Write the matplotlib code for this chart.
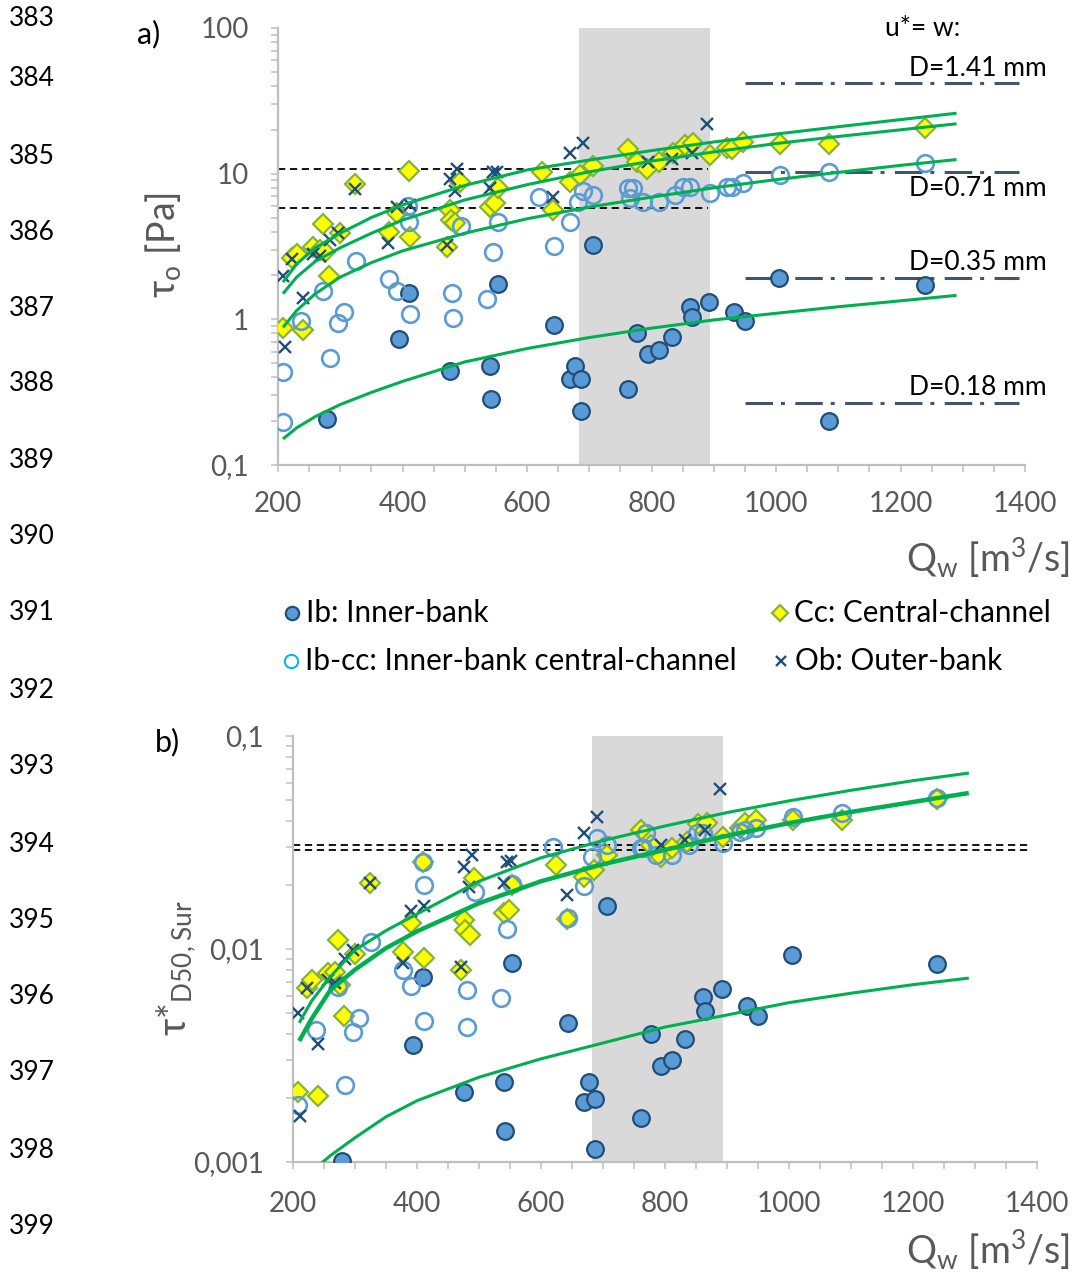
import matplotlib
matplotlib.use('Agg')
import matplotlib.pyplot as plt
from matplotlib.lines import Line2D
from matplotlib.ticker import MultipleLocator, FixedLocator, FixedFormatter, LogLocator, NullFormatter
import numpy as np

plt.rcParams['font.family'] = ['Lato', 'DejaVu Sans']
plt.rcParams['mathtext.default'] = 'regular'

# ---------------- data ----------------
# Ib: inner-bank (filled circles)
q_ib = [279, 394, 410, 476, 541, 542, 553, 643, 669, 677, 687, 687, 706, 762, 777, 794,
        812, 833, 862, 865, 892, 933, 950, 1005, 1085, 1239]
tau_ib = [0.207, 0.73, 1.51, 0.44, 0.476, 0.283, 1.74, 0.91, 0.39, 0.48, 0.39, 0.234, 3.26,
          0.33, 0.81, 0.575, 0.62, 0.76, 1.21, 1.03, 1.31, 1.12, 0.98, 1.91, 0.20, 1.71]
taus_ib = [0.00101, 0.00354, 0.0074, 0.00213, 0.00238, 0.0014, 0.0086, 0.0045, 0.00191,
           0.00238, 0.00198, 0.00115, 0.0159, 0.00161, 0.00399, 0.00282, 0.00301, 0.00377,
           0.00596, 0.00512, 0.00649, 0.0054, 0.00484, 0.0094, np.nan, 0.0085]

# Cc: central-channel (diamonds)
q_cc = [208, 222, 230, 240, 256, 268, 272, 275, 282, 300, 324, 378, 391, 410, 412, 471, 476,
        478, 485, 492, 541, 548, 553, 624, 642, 669, 685, 706, 762, 777, 793, 812, 835, 854,
        867, 894, 921, 929, 947, 1006, 1085, 1239]
tau_cc = [0.87, 2.65, 2.83, 0.84, 3.16, 3.0, 4.5, 2.88, 1.97, 3.94, 8.5, 3.95, 5.4, 10.5, 3.7,
          3.16, 5.67, 4.84, 4.6, 8.7, 5.9, 6.3, 8.0, 10.2, 5.6, 8.7, 9.8, 11.2, 14.8, 12.1,
          10.8, 12.1, 13.9, 15.8, 16.3, 13.5, 15.1, 14.8, 16.6, 16.0, 16.0, 20.6]
taus_cc = [0.00213, 0.00656, 0.00715, 0.00204, 0.0077, 0.0078, 0.0110, 0.0068, 0.00484, 0.0095,
           0.0204, 0.0097, 0.0132, 0.0256, 0.0091, 0.0080, 0.0137, 0.0123, 0.0116, 0.0215,
           0.0148, 0.0152, 0.020, 0.0248, 0.0138, 0.0218, 0.0235, 0.0276, 0.0362, 0.0308,
           0.0270, 0.0298, 0.0318, 0.0387, 0.0391, 0.0336, 0.037, 0.039, 0.0404, 0.0404,
           0.0404, 0.0506]

# Ib-cc: inner-bank central-channel (open circles)
q_ibcc = [208, 208, 237, 272, 284, 296, 306, 325, 378, 391, 409, 411, 412, 480, 481, 494, 536,
          545, 553, 619, 643, 669, 682, 690, 706, 762, 765, 770, 786, 812, 838, 851, 862, 894,
          921, 929, 947, 1006, 1085, 1239]
tau_ibcc = [0.434, 0.197, 0.98, 1.56, 0.54, 0.95, 1.12, 2.5, 1.88, 1.56, 6.0, 4.69, 1.08, 1.51,
            1.02, 4.34, 1.39, 2.92, 4.69, 6.96, 3.21, 4.69, 6.43, 7.65, 7.18, 8.0, 6.85, 8.0,
            6.43, 6.43, 7.18, 8.15, 8.15, 7.41, 8.15, 8.15, 8.67, 9.84, 10.2, 11.9]
taus_ibcc = [0.00185, np.nan, 0.00417, 0.0066, 0.0023, 0.00407, 0.00474, 0.0108, 0.0080, 0.0067,
             0.0256, 0.020, 0.00459, 0.00643, 0.0043, 0.0185, 0.00589, 0.0124, 0.0202, 0.0301,
             0.0140, 0.0198, 0.027, 0.0332, 0.0308, 0.0298, 0.0298, 0.0351, 0.0276, 0.0276,
             0.0308, 0.0351, 0.0351, 0.0315, 0.0354, 0.0362, 0.037, 0.0417, 0.0435, 0.0512]

# Ob: outer-bank (crosses)
q_ob = [208, 211, 222, 240, 256, 267, 284, 296, 324, 377, 391, 412, 471, 476, 484, 488, 541,
        545, 552, 642, 669, 690, 794, 833, 865, 889]
tau_ob = [1.97, 0.65, 2.58, 1.41, 2.79, 2.7, 3.53, 3.94, 7.9, 3.32, 5.94, 6.13, 3.26, 9.24,
          7.65, 10.8, 8.0, 10.2, 10.2, 6.96, 13.9, 16.3, 12.1, 12.7, 13.9, 22.0]
taus_ob = [0.00501, 0.00164, 0.00656, 0.00358, 0.00715, 0.0069, 0.0090, 0.0099, 0.0204, 0.0086,
           0.0151, 0.0159, 0.0082, 0.0243, 0.0195, 0.0276, 0.0204, 0.0256, 0.0258, 0.0179,
           0.0351, 0.0417, 0.0308, 0.0325, 0.0362, 0.0564]

# trend lines (read at fixed discharges)
q_fit_a = [208, 230, 260, 300, 350, 400, 500, 600, 700, 800, 900, 1000, 1100, 1200, 1290]
fit_a = [
    [1.8, 2.4, 3.1, 3.9, 5.0, 6.1, 8.3, 10.6, 12.4, 14.4, 16.5, 18.7, 21.0, 23.5, 26.0],
    [1.5, 1.95, 2.5, 3.1, 3.9, 4.8, 6.6, 8.4, 10.3, 12.2, 14.1, 16.1, 18.0, 20.0, 22.0],
    [0.88, 1.15, 1.5, 1.95, 2.45, 2.95, 3.9, 4.9, 5.9, 6.9, 8.0, 9.1, 10.2, 11.4, 12.5],
    [0.151, 0.18, 0.215, 0.26, 0.315, 0.375, 0.51, 0.63, 0.75, 0.87, 0.99, 1.1, 1.22, 1.34, 1.46],
]
q_fit_b = [210, 230, 260, 300, 350, 400, 500, 600, 700, 800, 900, 1000, 1100, 1200, 1290]
fit_b = [
    [0.0045, 0.0057, 0.0074, 0.0099, 0.0122, 0.0146, 0.0208, 0.0268, 0.0323, 0.0378, 0.0437,
     0.0496, 0.0556, 0.0617, 0.067],
    [0.0037, 0.0047, 0.0064, 0.0080, 0.0101, 0.0121, 0.0164, 0.0208, 0.0250, 0.0292, 0.0340,
     0.0390, 0.0440, 0.0490, 0.054],
    [0.00078, 0.0009, 0.00107, 0.0013, 0.00163, 0.00194, 0.0025, 0.00305, 0.00362, 0.0043,
     0.0049, 0.0056, 0.0062, 0.0068, 0.0073],
]
fit_b_lw = [2.2, 3.2, 2.2]

# shaded discharge range
q_band = [683, 894]

# thresholds
q_crit_a = [200, 890]
tau_crit_a = [10.8, 5.85]
q_crit_b = [200, 1390]
taus_crit_b = [0.0308, 0.0292]

q_settle = [950, 1390]
tau_settle = [42, 10.3, 1.91, 0.266]
settle_labels = ['D=1.41 mm', 'D=0.71 mm', 'D=0.35 mm', 'D=0.18 mm']
settle_label_tau = [52.4, 7.9, 2.46, 0.342]

line_numbers = list(range(383, 400))
line_number_y = [18, 78, 156, 232, 308, 384, 461, 537, 613, 690, 767, 844, 920, 997, 1073, 1150, 1226]

# ---------------- styling ----------------
W, H = 1073, 1272
GREEN = '#00B050'
AXC = '#BFBFBF'
TXT = '#595959'
sty_ib = dict(ls='none', marker='o', ms=12, mfc='#5B9BD5', mec='#1F4E79', mew=1.6, zorder=3)
sty_cc = dict(ls='none', marker='D', ms=10.3, mfc='#FFFF00', mec='#86B23E', mew=1.6, zorder=4)
sty_ibcc = dict(ls='none', marker='o', ms=12, mfc='none', mec='#5B9BD5', mew=1.9, zorder=5)
sty_ob = dict(ls='none', marker='x', ms=9, mec='#1F4E79', mew=1.7, zorder=6)


def fx(x):
    return x / W


def fy(y):
    return 1 - y / H


fig = plt.figure(figsize=(W / 100, H / 100), dpi=100)

ax1 = fig.add_axes([fx(278), fy(465), (1025 - 278) / W, (465 - 28) / H])
ax2 = fig.add_axes([fx(293), fy(1162), (1037 - 293) / W, (1162 - 736) / H])


def style_axis(ax, ylo, yhi, ylabels, ypad, xpad):
    ax.set_xlim(200, 1400)
    ax.set_yscale('log')
    ax.set_ylim(ylo, yhi)
    for s in ['top', 'right']:
        ax.spines[s].set_visible(False)
    for s in ['left', 'bottom']:
        ax.spines[s].set_color(AXC)
        ax.spines[s].set_linewidth(1.6)
    ax.xaxis.set_major_locator(MultipleLocator(200))
    ax.xaxis.set_minor_locator(MultipleLocator(50))
    decades = [ylo * 10 ** i for i in range(len(ylabels))]
    ax.yaxis.set_major_locator(FixedLocator(decades))
    ax.yaxis.set_major_formatter(FixedFormatter(ylabels))
    ax.yaxis.set_minor_locator(LogLocator(base=10, subs=np.arange(2, 10)))
    ax.yaxis.set_minor_formatter(NullFormatter())
    ax.tick_params(which='both', direction='out', color=AXC, width=1.1, length=5)
    ax.tick_params(axis='y', which='major', labelsize=20, labelcolor=TXT, pad=ypad)
    ax.tick_params(axis='x', which='major', labelsize=20, labelcolor=TXT, pad=xpad)
    ax.patch.set_visible(False)


style_axis(ax1, 0.1, 100, ['0,1', '1', '10', '100'], 16, 14)
style_axis(ax2, 0.001, 0.1, ['0,001', '0,01', '0,1'], 16, 16)

# panel a
ax1.axvspan(q_band[0], q_band[1], color='#D9D9D9', zorder=0, lw=0)
for t in tau_crit_a:
    ax1.plot(q_crit_a, [t, t], color='black', lw=1.3, dashes=(4, 2.6), zorder=2)
for t in tau_settle:
    ax1.plot(q_settle, [t, t], color='#44546A', lw=2.2, dashes=(9, 2.6, 1.3, 3.4), zorder=2,
             clip_on=False)
ax1.plot(q_ib, tau_ib, **sty_ib)
ax1.plot(q_cc, tau_cc, **sty_cc)
ax1.plot(q_ibcc, tau_ibcc, **sty_ibcc)
ax1.plot(q_ob, tau_ob, **sty_ob)
for f in fit_a:
    ax1.plot(q_fit_a, f, color=GREEN, lw=2.2, zorder=7, solid_capstyle='butt')

ax1.text(1175, 100, 'u*= w:', fontsize=19, va='center', ha='left', clip_on=False)
for lab, t in zip(settle_labels, settle_label_tau):
    ax1.text(1435, t, lab, fontsize=19, va='center', ha='right', clip_on=False)

# panel b
ax2.axvspan(q_band[0], q_band[1], color='#D9D9D9', zorder=0, lw=0)
for t in taus_crit_b:
    ax2.plot(q_crit_b, [t, t], color='black', lw=1.3, dashes=(4, 2.6), zorder=2)
ax2.plot(q_ib, taus_ib, **sty_ib)
ax2.plot(q_cc, taus_cc, **sty_cc)
ax2.plot(q_ibcc, taus_ibcc, **sty_ibcc)
ax2.plot(q_ob, taus_ob, **sty_ob)
for f, lw in zip(fit_b, fit_b_lw):
    ax2.plot(q_fit_b, f, color=GREEN, lw=lw, zorder=7, solid_capstyle='butt')

# axis titles
fig.text(fx(1070), fy(558), r'Q$_{w}$ [m$^{3}$/s]', fontsize=27, color=TXT, ha='right', va='center')
fig.text(fx(1070), fy(1250), r'Q$_{w}$ [m$^{3}$/s]', fontsize=27, color=TXT, ha='right', va='center')
fig.text(fx(163), fy(245), r'τ$_{o}$ [Pa]', fontsize=27, color=TXT, ha='center', va='center',
         rotation=90)
fig.text(fx(176), fy(968), r'τ*$_{D50,Sur}$', fontsize=27, color=TXT, ha='center', va='center',
         rotation=90)

fig.text(fx(137), fy(34), 'a)', fontsize=22, ha='left', va='center')
fig.text(fx(155), fy(742), 'b)', fontsize=22, ha='left', va='center')

for n, y in zip(line_numbers, line_number_y):
    fig.text(fx(9), fy(y), str(n), fontsize=19, ha='left', va='center')

# legend
leg_items = [
    (292, 613, sty_ib, 'Ib: Inner-bank'),
    (780, 613, sty_cc, 'Cc: Central-channel'),
    (291, 661, dict(sty_ibcc, mec='#00B0F0', mew=1.4), 'Ib-cc: Inner-bank central-channel'),
    (781, 661, sty_ob, 'Ob: Outer-bank'),
]
for x, y, st, lab in leg_items:
    st = dict(st)
    st['ms'] = st['ms'] * 0.8
    fig.add_artist(Line2D([fx(x)], [fy(y)], transform=fig.transFigure, **st))
    fig.text(fx(x + 14), fy(y), lab, fontsize=21.3, ha='left', va='center')

fig.savefig('out.png', dpi=100)
